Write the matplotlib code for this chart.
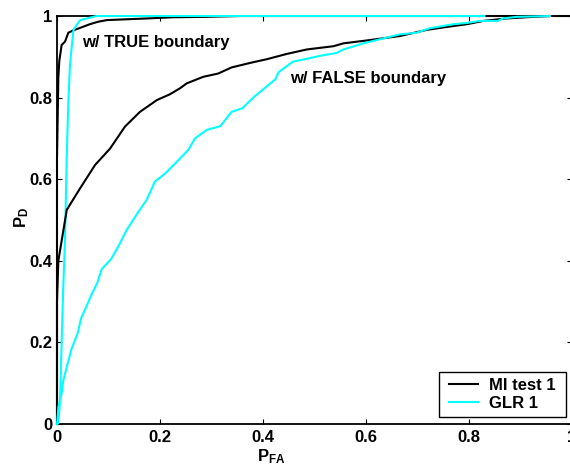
#!/usr/bin/env python3
"""
plot.py — ROC curves (P_D vs P_FA) for the MI test and the GLR detector,
with and without the true boundary.

Run with:  python plot.py   -> writes out.png
"""
import matplotlib
matplotlib.use("Agg")  # headless
import matplotlib.pyplot as plt
from matplotlib.path import Path

# ---------------------------------------------------------------------------
# data
# ---------------------------------------------------------------------------
# MI test 1, TRUE boundary (black)
mi_true_pfa = [0, 0, 0.0026, 0.0045, 0.009, 0.0155, 0.022, 0.032, 0.045, 0.064,
               0.080, 0.097, 0.135, 0.174, 0.226, 0.29, 0.355, 0.5, 1.0]
mi_true_pd = [0, 0.65, 0.85, 0.89, 0.929, 0.937, 0.959, 0.965, 0.971, 0.980,
              0.986, 0.990, 0.992, 0.994, 0.997, 0.998, 1.0, 1.0, 1.0]

# GLR 1, TRUE boundary (cyan)
glr_true_pfa = [0, 0.0026, 0.006, 0.009, 0.012, 0.0155, 0.019, 0.022, 0.025,
                0.028, 0.032, 0.038, 0.045, 0.058, 0.077, 0.83]
glr_true_pd = [0, 0.002, 0.06, 0.20, 0.33, 0.45, 0.66, 0.79, 0.876,
               0.917, 0.966, 0.978, 0.990, 0.994, 1.0, 1.0]

# MI test 1, FALSE boundary (black)
mi_false_pfa = [0, 0, 0.0026, 0.019, 0.045, 0.074, 0.103, 0.132, 0.161, 0.194,
                0.219, 0.239, 0.252, 0.284, 0.313, 0.339, 0.375, 0.407, 0.446,
                0.485, 0.537, 0.556, 0.601, 0.666, 0.718, 0.750, 0.796, 0.828,
                0.873, 0.925, 0.957]
mi_false_pd = [0, 0.30, 0.40, 0.525, 0.578, 0.635, 0.675, 0.729, 0.765, 0.794,
               0.808, 0.823, 0.835, 0.851, 0.859, 0.874, 0.885, 0.894, 0.907,
               0.918, 0.926, 0.933, 0.940, 0.951, 0.966, 0.972, 0.980, 0.988,
               0.994, 0.998, 1.0]

# GLR 1, FALSE boundary (cyan)
glr_false_pfa = [0, 0.0006, 0.0026, 0.009, 0.012, 0.019, 0.028, 0.040, 0.047,
                 0.056, 0.068, 0.078, 0.087, 0.105, 0.119, 0.135, 0.158, 0.174,
                 0.190, 0.210, 0.236, 0.255, 0.268, 0.291, 0.317, 0.339, 0.360,
                 0.381, 0.405, 0.424, 0.430, 0.458, 0.488, 0.517, 0.542, 0.556,
                 0.595, 0.627, 0.666, 0.698, 0.724, 0.770, 0.796, 0.821, 0.856,
                 0.866, 0.893, 0.957]
glr_false_pd = [0, 0.006, 0.042, 0.075, 0.105, 0.14, 0.183, 0.222, 0.26,
                0.285, 0.32, 0.345, 0.380, 0.404, 0.435, 0.475, 0.520, 0.549,
                0.594, 0.614, 0.647, 0.672, 0.700, 0.721, 0.730, 0.765, 0.774,
                0.800, 0.825, 0.845, 0.862, 0.888, 0.896, 0.904, 0.909, 0.918,
                0.933, 0.943, 0.955, 0.959, 0.970, 0.980, 0.983, 0.988, 0.988,
                0.994, 0.998, 1.0]

series_labels = ["MI test 1", "GLR 1"]
tick_values = [0, 0.2, 0.4, 0.6, 0.8, 1]
tick_labels = ["0", "0.2", "0.4", "0.6", "0.8", "1"]


def wide_box(x0, y0, width, height, mutation_size):
    """Square legend frame with extra padding left/right only (MATLAB look)."""
    dx = 0.27 * mutation_size
    x0, x1 = x0 - dx, x0 + width + dx
    y1 = y0 + height
    return Path([(x0, y0), (x1, y0), (x1, y1), (x0, y1), (x0, y0)], closed=True)


def main() -> None:
    plt.rcParams["font.family"] = ["Liberation Sans", "DejaVu Sans"]
    plt.rcParams["font.weight"] = "bold"
    plt.rcParams["mathtext.fontset"] = "custom"
    plt.rcParams["mathtext.rm"] = "Liberation Sans:bold"
    plt.rcParams["mathtext.it"] = "Liberation Sans:bold"
    plt.rcParams["mathtext.bf"] = "Liberation Sans:bold"

    fig = plt.figure(figsize=(5.70, 4.71), dpi=100)
    # axes box: right edge sits just past the picture, as in the original
    ax = fig.add_axes([0.100, 0.0998, 0.9035, 0.8662])

    kw = dict(lw=1.5, zorder=3, clip_on=False)
    ax.plot(mi_true_pfa, mi_true_pd, color="black", label=series_labels[0], **kw)
    ax.plot(glr_true_pfa, glr_true_pd, color="cyan", label=series_labels[1], **kw)
    ax.plot(mi_false_pfa, mi_false_pd, color="black", **kw)
    ax.plot(glr_false_pfa, glr_false_pd, color="cyan", **kw)

    ax.set_xlim(0, 1)
    ax.set_ylim(0, 1)
    ax.set_xticks(tick_values)
    ax.set_xticklabels(tick_labels)
    ax.set_yticks(tick_values)
    ax.set_yticklabels(tick_labels)
    ax.tick_params(direction="in", length=3.6, width=0.8, top=True, right=True,
                   labelsize=12)
    ax.tick_params(axis="y", pad=3.5)
    ax.tick_params(axis="x", pad=4)
    for sp in ax.spines.values():
        sp.set_linewidth(1.3)

    ax.text(0.0485, 0.934, "w/ TRUE boundary", fontsize=12, fontweight="bold",
            ha="left", va="center")
    ax.text(0.452, 0.848, "w/ FALSE boundary", fontsize=12, fontweight="bold",
            ha="left", va="center")

    ax.set_xlabel(r"$P_{FA}$", fontsize=12)
    ax.xaxis.set_label_coords(0.416, -0.056)
    ax.set_ylabel(r"$P_D$", fontsize=12)
    ax.yaxis.set_label_coords(-0.05, 0.505)

    leg = ax.legend(loc="lower right", bbox_to_anchor=(0.9796, 0.017),
                    borderaxespad=0, fancybox=False, edgecolor="black",
                    framealpha=1, fontsize=12, handlelength=1.75,
                    handletextpad=0.65, labelspacing=0.2, borderpad=0.35)
    leg.get_frame().set_boxstyle(wide_box)
    leg.get_frame().set_linewidth(1.0)
    for h in leg.get_lines():
        h.set_linewidth(1.5)

    fig.savefig("out.png", dpi=100)
    plt.close(fig)


if __name__ == "__main__":
    main()
